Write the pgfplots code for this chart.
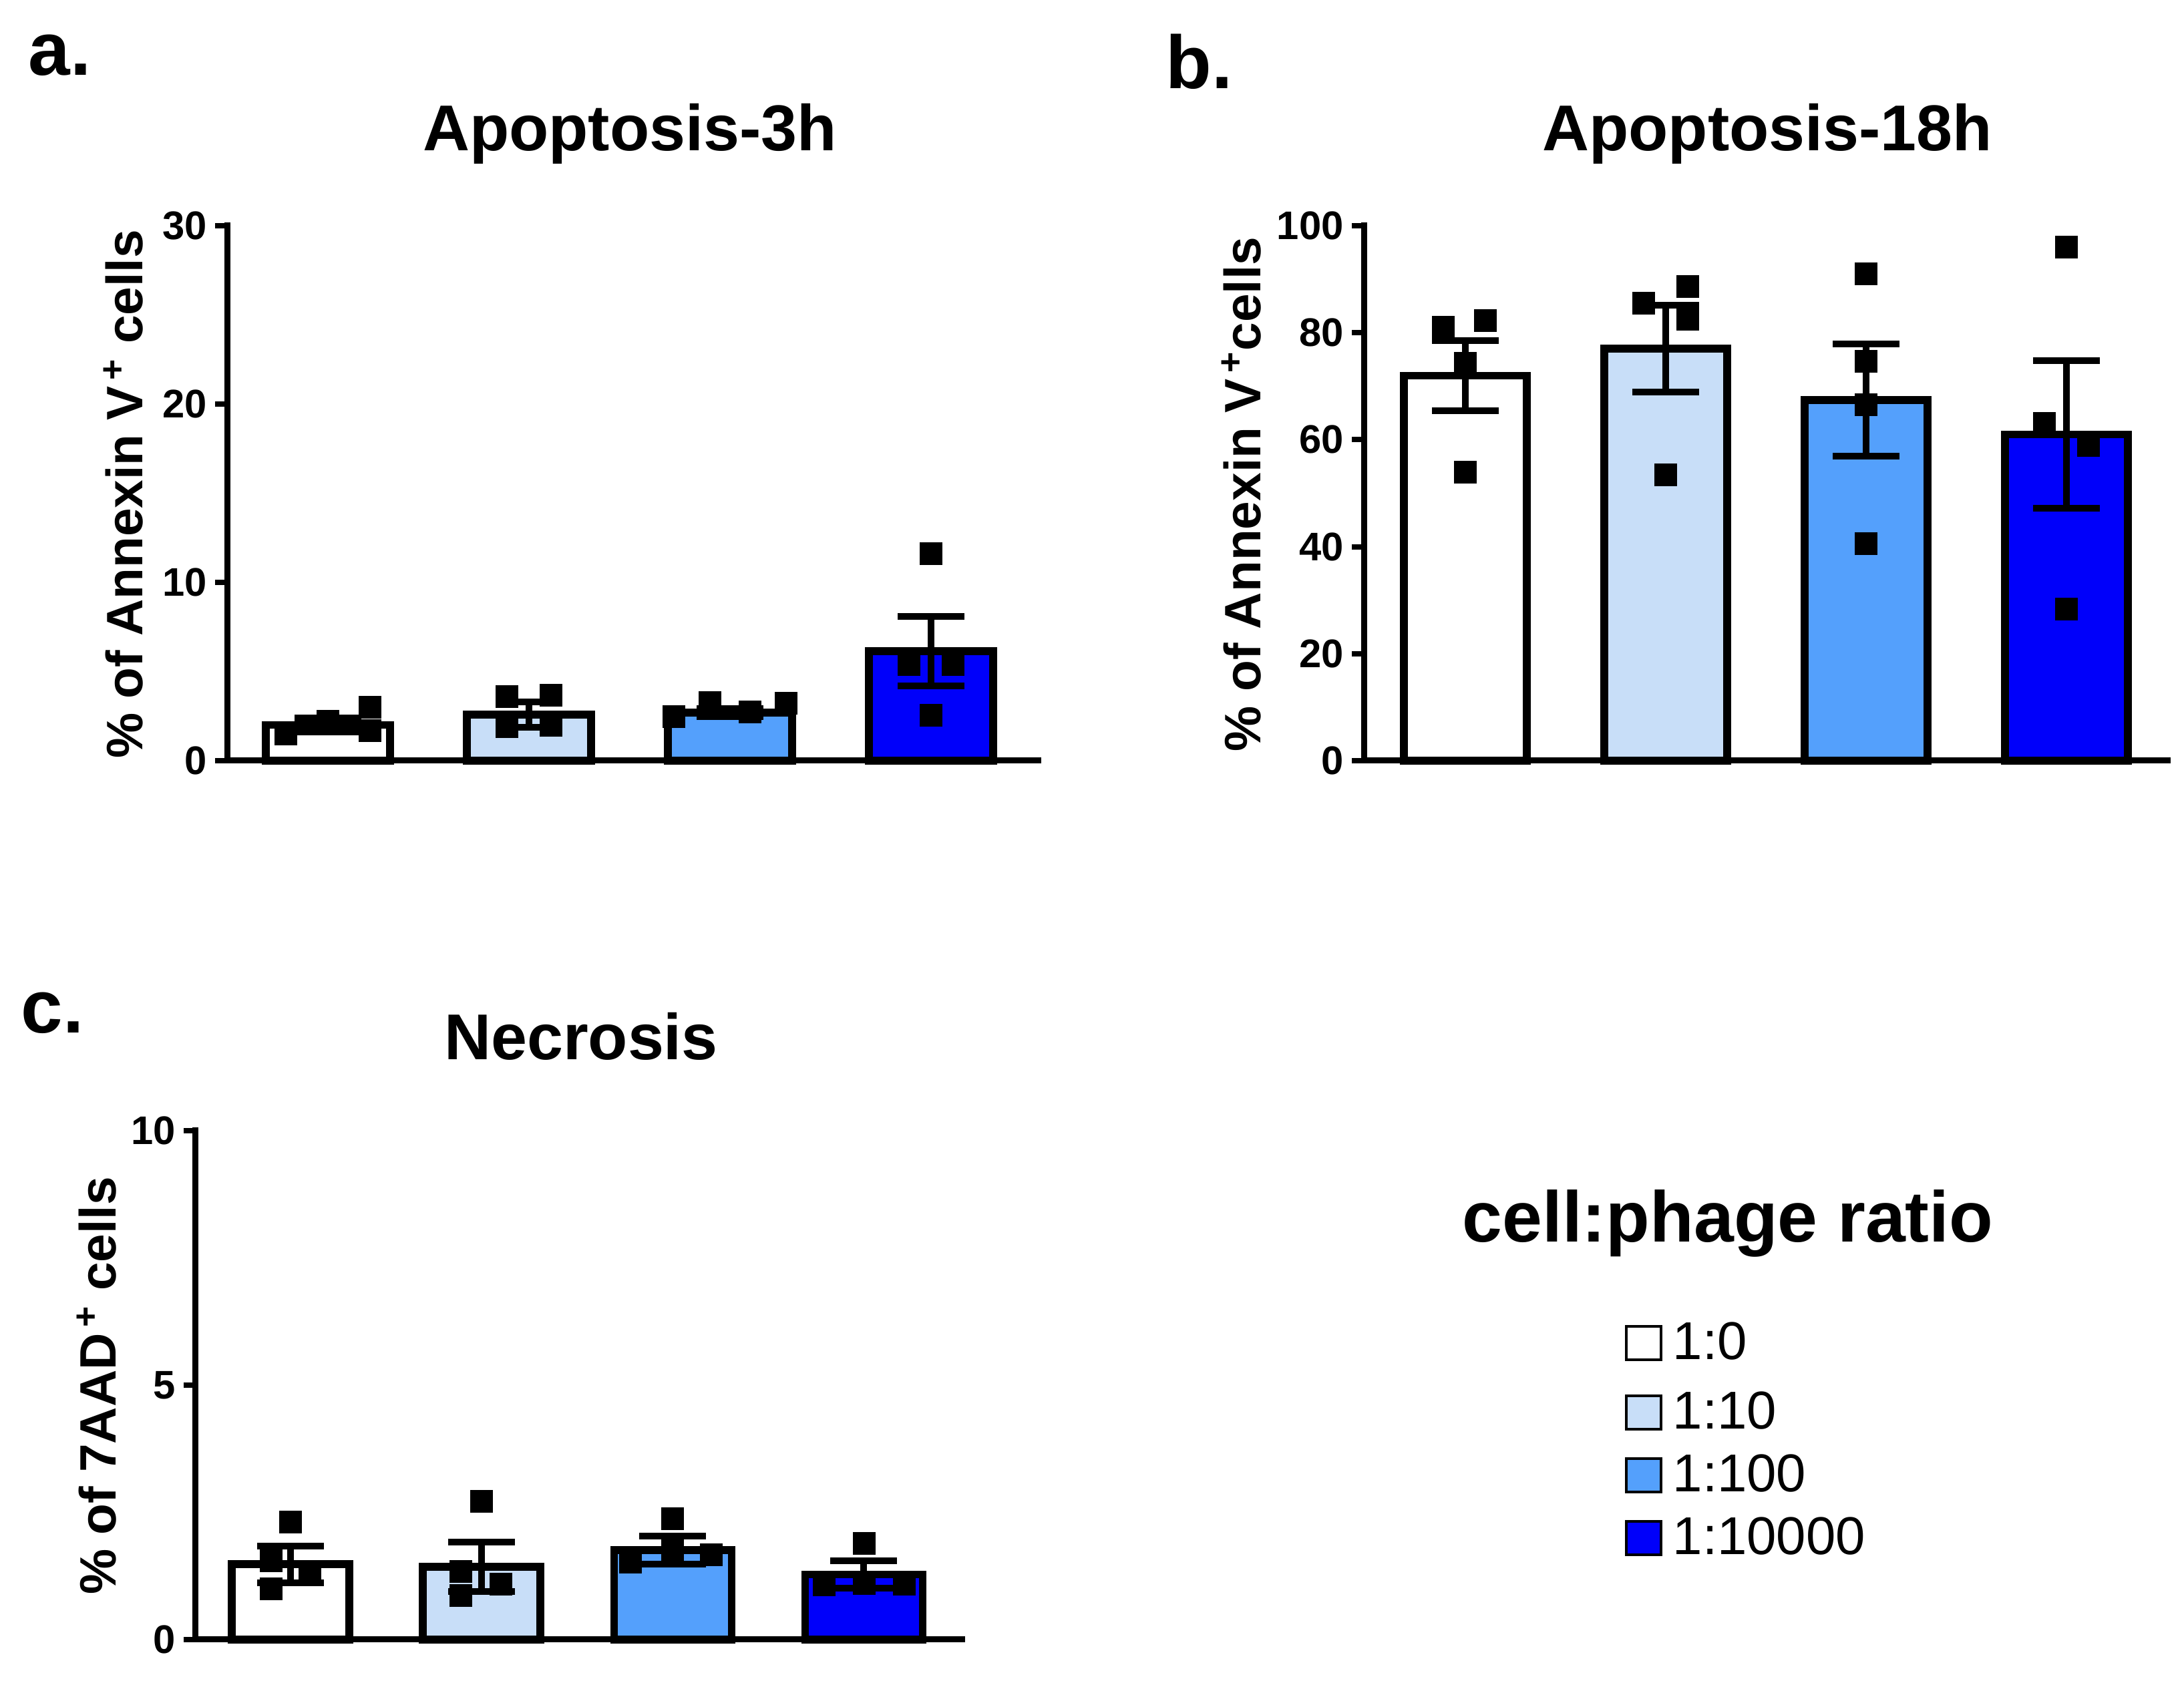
\documentclass[border=0pt]{standalone}
\usepackage{fontspec}
\setmainfont{Liberation Sans}
\usepackage{pgfplots}
\pgfplotsset{compat=1.18}

\definecolor{ratio10}{RGB}{200,222,248}
\definecolor{ratio100}{RGB}{84,160,252}
\definecolor{ratio10k}{RGB}{0,0,250}

\newcommand{\letterfont}{\fontsize{32}{36}\selectfont\bfseries}
\newcommand{\titlefont}{\fontsize{27.6}{32}\selectfont\bfseries}
\newcommand{\ylabfont}{\fontsize{21.8}{24}\selectfont\bfseries}
\newcommand{\ticksize}{\fontsize{17}{19}\selectfont\bfseries}

\pgfplotsset{
  panel/.style={
    scale only axis,
    axis lines=left,
    axis line style={-, line width=0.09cm, line cap=rect},
    xtick=\empty,
    tick align=outside,
    major tick length=0.18cm,
    ytick style={line width=0.08cm, black},
    yticklabel style={font=\ticksize},
    /pgf/number format/assume math mode=true,
    ymin=0,
    clip=false,
  },
  databar/.style={ybar, bar shift=0pt, draw=black, line width=0.115cm, fill=#1,
    error bars/.cd, y dir=both, y explicit, error mark=|,
    error bar style={line width=0.1cm, black},
    error mark options={line width=0.1cm, mark size=0.5cm, black}},
  dots/.style={only marks, mark=square*, mark size=0.165cm,
    mark options={fill=black, draw=black, line width=0.2pt}},
}

\begin{document}
\begin{tikzpicture}
\path[use as bounding box] (0,0) rectangle (32.7,25.2);

% a. Apoptosis-3h
\begin{axis}[panel, at={(3.40cm,13.81cm)}, anchor=south west,
  width=12.14cm, height=8.01cm, xmin=-0.502, xmax=3.532,
  ymax=30, ytick={0,10,20,30}, bar width=1.86cm]
\addplot[databar=white]    coordinates {(0,2.0)  +- (0,0.38)};
\addplot[databar=ratio10]  coordinates {(1,2.58) +- (0,0.72)};
\addplot[databar=ratio100] coordinates {(2,2.7)  +- (0,0.22)};
\addplot[databar=ratio10k] coordinates {(3,6.15) +- (0,1.95)};
\addplot[dots] coordinates {(-0.21,1.5) (0,2.2) (0.21,3.0) (0.21,1.7)};
\addplot[dots] coordinates {(0.89,3.6) (0.89,1.9) (1.11,3.68) (1.11,2.0)};
\addplot[dots] coordinates {(1.72,2.47) (1.9,3.27) (2.1,2.73) (2.28,3.23)};
\addplot[dots] coordinates {(3,11.6) (2.89,5.4) (3.11,5.4) (3,2.55)};
\end{axis}

% b. Apoptosis-18h
\begin{axis}[panel, at={(20.42cm,13.81cm)}, anchor=south west,
  width=12.03cm, height=8.01cm, xmin=-0.507, xmax=3.503,
  ymax=100, ytick={0,20,40,60,80,100}, bar width=1.84cm]
\addplot[databar=white]    coordinates {(0,72)   +- (0,6.55)};
\addplot[databar=ratio10]  coordinates {(1,77)   +- (0,8.1)};
\addplot[databar=ratio100] coordinates {(2,67.4) +- (0,10.45)};
\addplot[databar=ratio10k] coordinates {(3,61)   +- (0,13.8)};
\addplot[dots] coordinates {(-0.11,81.1) (0.1,82.3) (0,74.3) (0,53.9)};
\addplot[dots] coordinates {(0.89,85.5) (1.11,88.6) (1.11,82.5) (1,53.5)};
\addplot[dots] coordinates {(2,91) (2,74.7) (2,66.5) (2,40.6)};
\addplot[dots] coordinates {(3,96) (2.89,63) (3.11,59) (3,28.3)};
\end{axis}

% c. Necrosis
\begin{axis}[panel, at={(2.93cm,0.65cm)}, anchor=south west,
  width=11.47cm, height=7.62cm, xmin=-0.496, xmax=3.512,
  ymax=10, ytick={0,5,10}, bar width=1.76cm]
\addplot[databar=white]    coordinates {(0,1.48) +- (0,0.36)};
\addplot[databar=ratio10]  coordinates {(1,1.43) +- (0,0.49)};
\addplot[databar=ratio100] coordinates {(2,1.76) +- (0,0.28)};
\addplot[databar=ratio10k] coordinates {(3,1.28) +- (0,0.27)};
\addplot[dots] coordinates {(0,2.31) (-0.1,1.55) (-0.1,1.0) (0.1,1.29)};
\addplot[dots] coordinates {(1,2.72) (0.89,1.34) (0.89,0.87) (1.1,1.09)};
\addplot[dots] coordinates {(2,2.38) (1.78,1.52) (2.2,1.67) (2,1.75)};
\addplot[dots] coordinates {(3,1.89) (2.79,1.08) (3.21,1.09) (3,1.1)};
\end{axis}

% panel letters and titles
\node[anchor=base west, inner sep=0, font=\letterfont] at (0.42,24.07) {a.};
\node[anchor=base west, inner sep=0, font=\letterfont] at (17.45,23.87) {b.};
\node[anchor=base west, inner sep=0, font=\letterfont] at (0.31,9.73) {c.};
\node[anchor=base, inner sep=0, font=\titlefont] at (9.43,22.94) {Apoptosis-3h};
\node[anchor=base, inner sep=0, font=\titlefont] at (26.46,22.94) {Apoptosis-18h};
\node[anchor=base, inner sep=0, font=\titlefont] at (8.70,9.33) {Necrosis};

% y labels
\node[rotate=90, anchor=base, inner sep=0, font=\ylabfont] at (2.13,17.80)
  {\% of Annexin V\textsuperscript{\,+} cells};
\node[rotate=90, anchor=base, inner sep=0, font=\ylabfont] at (18.87,17.80)
  {\% of Annexin V\textsuperscript{\,+}cells};
\node[rotate=90, anchor=base, inner sep=0, font=\ylabfont] at (1.73,4.45)
  {\% of 7AAD\textsuperscript{\,+} cells};

% legend
\node[anchor=base, inner sep=0, font=\fontsize{30.6}{34}\selectfont\bfseries]
  at (25.87,6.60) {cell:phage ratio};
\begin{scope}[every node/.style={anchor=base west, inner sep=0,
    font=\fontsize{22.7}{26}\selectfont}]
\draw[line width=0.045cm, fill=white]    (24.35,4.84) rectangle (24.87,5.34);
\node at (25.04,4.84) {1:0};
\draw[line width=0.045cm, fill=ratio10]  (24.35,3.80) rectangle (24.87,4.30);
\node at (25.04,3.80) {1:10};
\draw[line width=0.045cm, fill=ratio100] (24.35,2.86) rectangle (24.87,3.36);
\node at (25.04,2.86) {1:100};
\draw[line width=0.045cm, fill=ratio10k] (24.35,1.92) rectangle (24.87,2.42);
\node at (25.04,1.92) {1:10000};
\end{scope}
\end{tikzpicture}
\end{document}
